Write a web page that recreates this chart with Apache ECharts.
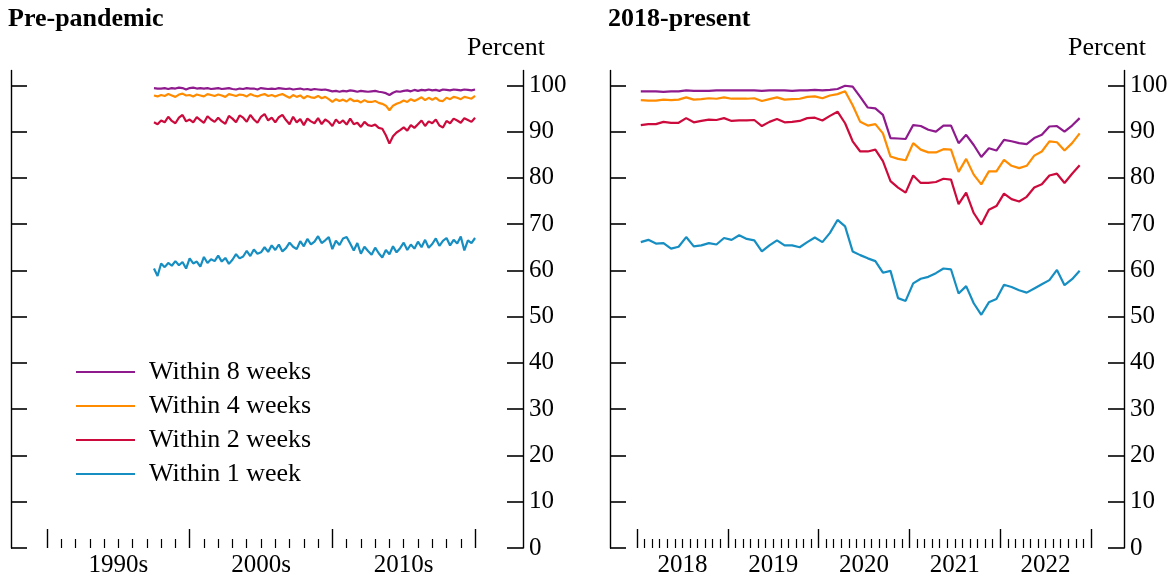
<!DOCTYPE html>
<html><head><meta charset="utf-8">
<script src="https://cdn.jsdelivr.net/npm/echarts@6/dist/echarts.min.js"></script>
<style>html,body{margin:0;padding:0;background:#fff}#c{width:1176px;height:578px}</style>
</head><body><div id="c"></div>
<script>
// ---------- data ----------
const seriesNames = ['Within 8 weeks', 'Within 4 weeks', 'Within 2 weeks', 'Within 1 week'];
const seriesColors = ['#8e1a8e', '#ff8c00', '#cc0a3c', '#168ec2'];

// Pre-pandemic: quarterly, starting mid-1997
const preStart = 1997.5;
const preStep = 0.25;
const pre8 = [99.4,99.3, 99.3,99.4,99.2,99.4, 99.3,99.5,99.4,99.1, 99.4,99.5,99.3,99.4, 99.3,99.4,99.2,99.3, 99.4,99.2,99.3,99.4, 99.2,99.1,99.3,99.2, 99.4,99.3,99.3,99.1, 99.4,99.3,99.2,99.3, 99.2,99.4,99.3,99.2, 99.3,99.1,99.2,99.3, 99.1,99.2,99.0,99.2, 99.1,99.0,99.1,98.9, 98.7,98.8,98.6,98.8, 98.7,98.9,98.8,98.6, 98.8,98.7,98.6,98.7, 98.8,98.6,98.5,98.3, 97.9,98.4,98.7,98.6, 98.8,98.9,98.7,99.0, 98.8,99.0,98.9,99.1, 98.9,99.0,98.8,99.1, 99.0,98.9,99.1,99.0, 98.9,99.1,99.0,98.9, 99.1];
const pre4 = [97.8,97.6, 97.9,97.7,98.1,97.8, 97.5,98.0,98.2,97.8, 97.9,97.6,98.0,97.8, 97.6,98.1,97.9,97.7, 98.0,97.8,97.5,98.1, 97.9,97.7,98.0,97.9, 97.6,98.1,97.8,97.6, 97.9,98.1,97.7,97.9, 97.6,97.9,98.1,97.7, 97.3,97.9,97.5,97.8, 97.2,97.7,97.4,97.3, 97.7,97.2,97.5,97.0, 96.4,97.0,96.6,96.9, 96.5,97.1,96.6,96.7, 96.3,96.8,96.4,96.4, 96.6,96.2,96.0,95.6, 94.6,95.6,96.0,96.3, 96.7,96.4,97.0,96.6, 97.0,97.4,96.8,97.3, 96.9,97.3,96.7,96.6, 97.3,97.0,97.5,97.3, 97.0,97.5,97.3,97.1, 97.7];
const pre2 = [92.0,91.6, 92.4,92.0,93.2,92.3, 91.8,93.0,93.6,92.2, 92.6,92.0,93.1,92.5, 91.9,93.3,92.6,92.1, 93.0,92.2,91.7,93.4, 92.8,92.0,93.5,93.0, 92.1,93.6,92.6,91.9, 93.2,93.8,92.4,93.0, 92.0,93.1,93.6,92.5, 91.6,93.2,92.0,92.7, 91.4,92.8,92.2,91.8, 92.9,91.6,92.6,92.1, 91.2,92.6,91.8,92.4, 91.5,92.8,91.6,91.9, 91.0,92.1,91.4,91.2, 91.5,90.8,90.6,89.2, 87.4,89.0,89.8,90.3, 90.9,90.2,91.4,90.8, 91.6,92.4,91.2,92.2, 91.8,92.6,91.3,90.9, 92.3,91.8,92.8,92.4, 91.9,92.9,92.5,92.1, 93.0];
const pre1 = [60.4,58.8, 61.5,60.7,61.6,61.0, 62.0,61.1,61.8,60.4, 62.6,61.5,61.9,60.8, 62.9,61.6,62.4,62.0, 63.2,61.9,62.7,61.4, 62.3,63.5,62.6,63.0, 64.2,63.1,64.5,63.6, 63.9,65.0,64.0,65.4, 64.4,65.6,64.1,64.8, 66.0,65.1,64.6,66.3, 65.2,66.8,65.6,66.2, 67.4,65.9,66.5,67.2, 64.6,66.4,65.5,66.9, 67.2,65.8,64.3,65.9, 63.6,65.1,64.2,63.4, 64.9,63.7,62.8,64.4, 63.5,65.2,63.9,64.8, 66.0,64.4,65.6,64.7, 66.2,65.0,66.6,64.9, 65.7,66.9,65.3,66.4, 67.0,65.4,66.6,65.8, 67.3,64.3,66.5,65.9, 67.0];

// 2018-present: monthly, Jan 2018 .. Nov 2022 (x = months since Jan 2018, mid-month)
const postStart = 0.5;
const post8 = [98.7,98.7,98.7,98.6,98.7,98.7,98.9,98.8,98.8,98.8,98.9,98.9,98.9,98.9,98.9,98.9,98.8,98.9,98.9,98.9,98.8,98.9,98.9,99.0,98.9,99.0,99.2,99.9,99.7,97.5,95.2,95.0,93.6,88.6,88.5,88.4,91.4,91.2,90.4,90.0,91.3,91.3,87.5,89.3,87.1,84.5,86.4,85.9,88.2,87.9,87.5,87.3,88.6,89.3,91.1,91.2,90.0,91.3,92.9];
const post4 = [96.8,96.7,96.7,96.9,96.8,96.9,97.4,96.9,97.0,97.2,97.1,97.4,97.1,97.1,97.1,97.2,96.6,97.0,97.4,96.9,97.0,97.1,97.5,97.6,97.2,97.8,98.1,98.7,95.7,92.1,91.3,91.6,89.6,84.6,84.1,83.8,87.5,86.1,85.5,85.5,86.2,86.1,81.3,84.1,80.7,78.6,81.4,81.4,83.9,82.6,82.1,82.6,84.8,85.7,87.9,87.7,85.9,87.5,89.6];
const post2 = [91.4,91.6,91.6,92.1,91.9,91.9,92.9,92.0,92.3,92.6,92.5,92.9,92.3,92.4,92.4,92.5,91.2,92.1,92.7,92.0,92.1,92.3,92.9,93.0,92.4,93.4,94.3,91.8,87.9,85.7,85.7,86.1,83.6,79.3,77.9,76.8,80.5,78.9,78.9,79.1,79.8,79.6,74.3,76.8,72.4,69.9,73.1,73.9,76.6,75.4,74.9,75.9,77.9,78.6,80.5,80.9,78.9,80.9,82.7];
const post1 = [66.1,66.6,65.8,65.9,64.7,65.1,67.2,65.2,65.4,65.9,65.6,67.0,66.6,67.6,66.8,66.5,64.1,65.4,66.5,65.4,65.4,65.0,66.1,67.1,66.1,68.1,70.9,69.5,64.1,63.3,62.6,62.0,59.5,59.9,54.0,53.4,57.2,58.2,58.6,59.4,60.4,60.2,55.0,56.6,52.9,50.4,53.1,53.8,56.9,56.4,55.7,55.2,56.1,57.0,57.9,60.1,56.8,58.1,59.9];

// ticks and labels
const preMajorTicks = [1990, 2000, 2010, 2020];
const preMinorTicks = [1991,1992,1993,1994,1995,1996,1997,1998,1999,2001,2002,2003,2004,2005,2006,2007,2008,2009,2011,2012,2013,2014,2015,2016,2017,2018,2019];
const preLabelPos = [1995, 2005, 2015];
const preLabels = ['1990s', '2000s', '2010s'];
const postMajorTicks = [0, 12, 24, 36, 48, 60];
const postMinorTicks = [1,2,3,4,5,6,7,8,9,10,11,13,14,15,16,17,18,19,20,21,22,23,25,26,27,28,29,30,31,32,33,34,35,37,38,39,40,41,42,43,44,45,46,47,49,50,51,52,53,54,55,56,57,58,59];
const postLabelPos = [6, 18, 30, 42, 54];
const postLabels = ['2018', '2019', '2020', '2021', '2022'];
const yTicks = [0, 10, 20, 30, 40, 50, 60, 70, 80, 90, 100];

// ---------- chart ----------
const FONT = "'Liberation Serif', 'DejaVu Serif', serif";
const black = '#000';

function pairs(start, step, vals) {
  return vals.map((v, i) => [start + i * step, v]);
}

function xAxes(gridIndex, min, max, majors, minors, labelPos, labels) {
  const base = {
    gridIndex, type: 'value', min, max, position: 'bottom',
    axisLine: { show: false, onZero: false },
    splitLine: { show: false }
  };
  return [
    Object.assign({}, base, {
      axisTick: { show: true, inside: true, length: 19, customValues: majors, lineStyle: { color: black, width: 1.4 } },
      axisLabel: { show: true, customValues: labelPos, margin: 5, color: black, fontFamily: FONT, fontSize: 25,
        formatter: v => { const i = labelPos.indexOf(v); return i >= 0 ? labels[i] : ''; } }
    }),
    Object.assign({}, base, {
      axisTick: { show: true, inside: true, length: 9, customValues: minors, lineStyle: { color: black, width: 1.2 } },
      axisLabel: { show: false }
    })
  ];
}

function yAxes(gridIndex) {
  const base = {
    gridIndex, type: 'value', min: 0, max: 103.2,
    axisLine: { show: true, onZero: false, lineStyle: { color: black, width: 1.4 } },
    axisTick: { show: true, inside: true, length: 16, customValues: yTicks, lineStyle: { color: black, width: 1.6 } },
    splitLine: { show: false }
  };
  return [
    Object.assign({}, base, { position: 'left', axisLabel: { show: false } }),
    Object.assign({}, base, {
      position: 'right',
      name: 'Percent', nameLocation: 'end', nameGap: 9,
      nameTextStyle: { color: black, fontFamily: FONT, fontSize: 26, align: 'center', padding: [0, 34, 0, 0] },
      axisLabel: { show: true, customValues: yTicks, margin: 6, color: black, fontFamily: FONT, fontSize: 25 }
    })
  ];
}

const preData = [pre8, pre4, pre2, pre1];
const postData = [post8, post4, post2, post1];
const series = [];
seriesNames.forEach((name, i) => {
  series.push({
    name, type: 'line', xAxisIndex: 0, yAxisIndex: 1, symbol: 'none', showSymbol: false,
    data: pairs(preStart, preStep, preData[i]),
    lineStyle: { color: seriesColors[i], width: 2.2 }, itemStyle: { color: seriesColors[i] },
    z: 10 - i, silent: true, animation: false
  });
});
seriesNames.forEach((name, i) => {
  series.push({
    name, type: 'line', xAxisIndex: 2, yAxisIndex: 3, symbol: 'none', showSymbol: false,
    data: pairs(postStart, 1, postData[i]),
    lineStyle: { color: seriesColors[i], width: 2.2 }, itemStyle: { color: seriesColors[i] },
    z: 10 - i, silent: true, animation: false
  });
});

const option = {
  animation: false,
  backgroundColor: '#fff',
  title: [
    { text: 'Pre-pandemic', left: 3, top: 1, textStyle: { fontFamily: FONT, fontWeight: 'bold', fontSize: 26, color: black } },
    { text: '2018-present', left: 603, top: 1, textStyle: { fontFamily: FONT, fontWeight: 'bold', fontSize: 26, color: black } }
  ],
  legend: {
    orient: 'vertical', left: 71, top: 354,
    icon: 'rect',
    itemWidth: 59, itemHeight: 2, itemGap: 8,
    data: seriesNames,
    selectedMode: false,
    textStyle: { fontFamily: FONT, fontSize: 26, lineHeight: 26, color: black, padding: [0, 0, 0, 9] }
  },
  grid: [
    { left: 11, right: 653, top: 70.5, bottom: 27 },
    { left: 610, right: 52, top: 70.5, bottom: 27 }
  ],
  xAxis: [].concat(
    xAxes(0, 1987.48, 2023.36, preMajorTicks, preMinorTicks, preLabelPos, preLabels),
    xAxes(1, -3.57, 64.36, postMajorTicks, postMinorTicks, postLabelPos, postLabels)
  ),
  yAxis: [].concat(yAxes(0), yAxes(1)),
  series
};

const chart = echarts.init(document.getElementById('c'), null, { renderer: 'canvas' });
chart.setOption(option);
</script>
</body></html>
